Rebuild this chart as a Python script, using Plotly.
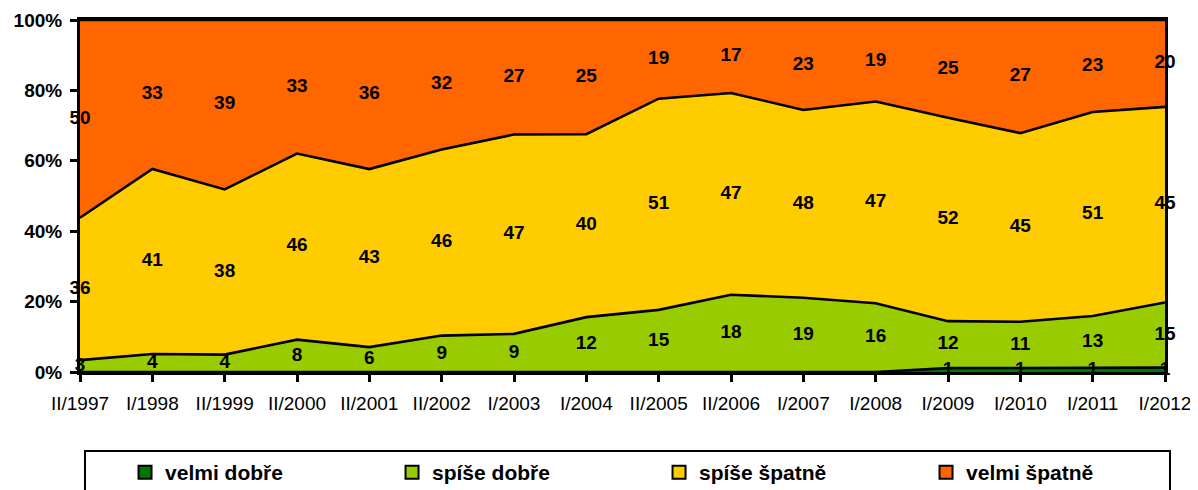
import numpy as np
import plotly.graph_objects as go

categories = ["II/1997", "I/1998", "II/1999", "II/2000", "II/2001", "II/2002", "I/2003",
              "I/2004", "II/2005", "II/2006", "I/2007", "I/2008", "I/2009", "I/2010",
              "I/2011", "I/2012"]
velmi_dobre = [0, 0, 0, 0, 0, 0, 0, 0, 0, 0, 0, 0, 1, 1, 1, 1]
spise_dobre = [3, 4, 4, 8, 6, 9, 9, 12, 15, 18, 19, 16, 12, 11, 13, 15]
spise_spatne = [36, 41, 38, 46, 43, 46, 47, 40, 51, 47, 48, 47, 52, 45, 51, 45]
velmi_spatne = [50, 33, 39, 33, 36, 32, 27, 25, 19, 17, 23, 19, 25, 27, 23, 20]
y_ticks = [0, 20, 40, 60, 80, 100]
y_tick_labels = ["0%", "20%", "40%", "60%", "80%", "100%"]

series = [
    ("velmi dobře", velmi_dobre, "#007700"),
    ("spíše dobře", spise_dobre, "#99CC00"),
    ("spíše špatně", spise_spatne, "#FFCC00"),
    ("velmi špatně", velmi_spatne, "#FF6600"),
]

FONT = "Liberation Sans, Arial, sans-serif"
fig = go.Figure()

vals = np.array([s[1] for s in series], dtype=float)
tot = vals.sum(axis=0)
pct = vals / tot * 100
cum = np.cumsum(pct, axis=0)
mids = cum - pct / 2

for name, v, col in series:
    fig.add_trace(go.Scatter(
        x=categories, y=v, name=name, mode="lines", stackgroup="one", groupnorm="percent",
        line=dict(color="black", width=2.6), fillcolor=col, hoverinfo="skip",
        showlegend=False,
    ))

# legend entries (square swatches)
for name, v, col in series:
    fig.add_trace(go.Scatter(
        x=[None], y=[None], name=name, mode="markers",
        marker=dict(symbol="square", size=13, color=col, line=dict(color="black", width=2)),
        showlegend=True, hoverinfo="skip",
    ))

for i, (name, v, col) in enumerate(series):
    xs = [c for c, val in zip(categories, v) if val > 0]
    ys = [m for m, val in zip(mids[i], v) if val > 0]
    ts = [str(val) for val in v if val > 0]
    fig.add_trace(go.Scatter(
        x=xs, y=ys, text=ts, mode="text", showlegend=False, cliponaxis=False,
        textfont=dict(family=FONT, size=19, color="black", weight="bold"),
        hoverinfo="skip",
    ))

fig.add_shape(type="rect", xref="paper", yref="paper",
              x0=0.0046, x1=1.0046, y0=-0.6, y1=-0.2244,
              line=dict(color="black", width=2), fillcolor="rgba(0,0,0,0)")

fig.update_layout(
    width=1190, height=482,
    margin=dict(l=72, r=33, t=12, b=118, autoexpand=False),
    paper_bgcolor="white", plot_bgcolor="white",
    font=dict(family=FONT, color="black"),
    showlegend=True,
    legend=dict(
        orientation="h", x=0.0415, xanchor="left", y=-0.2275, yanchor="top",
        borderwidth=0, bgcolor="rgba(0,0,0,0)",
        entrywidth=222, entrywidthmode="pixels", traceorder="normal",
        font=dict(family=FONT, size=21, color="black", weight="bold"),
    ),
    xaxis=dict(
        type="category", range=[0, 15], showgrid=False, zeroline=False,
        showline=True, linecolor="black", linewidth=3, mirror=True,
        ticks="outside", ticklen=7, tickwidth=2.5, tickcolor="black",
        ticklabelstandoff=5,
        tickfont=dict(family=FONT, size=19, color="black"),
    ),
    yaxis=dict(
        range=[0, 100], tickmode="array", tickvals=y_ticks, ticktext=y_tick_labels,
        showgrid=False, zeroline=False,
        showline=True, linecolor="black", linewidth=3, mirror=True,
        ticks="outside", ticklen=7, tickwidth=2.5, tickcolor="black",
        ticklabelstandoff=4,
        tickfont=dict(family=FONT, size=19, color="black", weight="bold"),
    ),
)

fig.write_html("out.html")
